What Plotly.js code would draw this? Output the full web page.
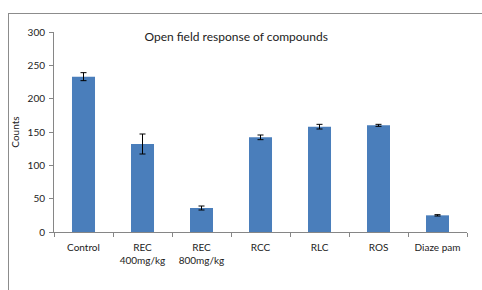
<!DOCTYPE html>
<html>
<head>
<meta charset="utf-8">
<script src="https://cdn.plot.ly/plotly-3.0.1.min.js"></script>
<style>
  html, body { margin: 0; padding: 0; background: #fff; }
  #frame { position: absolute; left: 8px; top: 13px; width: 474px; height: 277px;
           border-left: 1px solid #8c8c8c; border-top: 1px solid #8c8c8c; }
  #chart { position: absolute; left: 0; top: 0; width: 482px; height: 290px; }
</style>
</head>
<body>
<div id="frame"></div>
<div id="chart"></div>
<script>
const categories = ["Control", "REC<br>400mg/kg", "REC<br>800mg/kg", "RCC", "RLC", "ROS", "Diaze pam"];
const counts = [233, 132, 36, 142, 158, 160, 25];
const errors = [6, 15, 3, 3.5, 3.5, 1.5, 1];

const trace = {
  type: 'bar',
  x: categories,
  y: counts,
  marker: { color: '#4a7ebb', line: { width: 0 } },
  error_y: { type: 'data', array: errors, visible: true, color: '#000', thickness: 1, width: 3 },
  hoverinfo: 'none'
};

const font = "Lato, 'Open Sans', sans-serif";
const layout = {
  width: 482, height: 290,
  margin: { l: 54, r: 15, t: 32, b: 58 },
  paper_bgcolor: 'rgba(0,0,0,0)',
  plot_bgcolor: 'rgba(0,0,0,0)',
  showlegend: false,
  bargap: 0.61,
  font: { family: font, size: 10, color: '#222' },
  title: { text: 'Open field response of compounds', font: { family: font, size: 12, color: '#222' },
           xref: 'container', yref: 'container', x: 0.49, y: 0.872, xanchor: 'center', yanchor: 'middle' },
  xaxis: {
    type: 'category',
    showline: true, linecolor: '#868686', linewidth: 1,
    ticks: 'outside', tickson: 'boundaries', ticklen: 4, tickcolor: '#868686',
    ticklabelstandoff: 6,
    tickfont: { family: font, size: 10, color: '#222' },
    showgrid: false, zeroline: false, fixedrange: true
  },
  yaxis: {
    range: [0, 300], dtick: 50,
    showline: true, linecolor: '#868686', linewidth: 1,
    ticks: 'outside', ticklen: 4, tickcolor: '#868686',
    ticklabelstandoff: 2,
    tickfont: { family: font, size: 10, color: '#222' },
    showgrid: false, zeroline: false,
    title: { text: 'Counts', font: { family: font, size: 10, color: '#222' }, standoff: 6 }
  }
};

Plotly.newPlot('chart', [trace], layout, { displayModeBar: false, staticPlot: true });
</script>
</body>
</html>
